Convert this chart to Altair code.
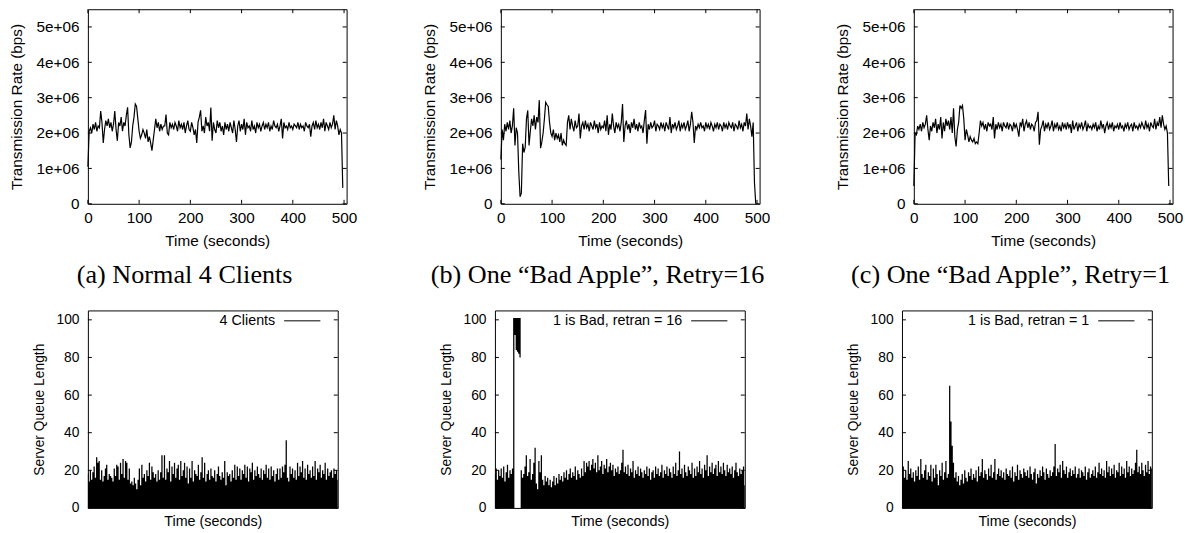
import altair as alt
import pandas as pd

FONT = "Liberation Sans"
SERIF = "Liberation Serif"

# ---------------- data: transmission rate (x 1e6 bps), one sample every 2.5 s ----------------
STEP = 2.5
rate_a = [
    1.05, 2.05, 2.15, 2.0, 2.25, 2.1, 2.3, 2.05, 2.2, 2.15, 2.62, 2.3, 1.72, 2.1, 2.35, 2.2, 2.4, 2.15, 2.3, 2.05,
    2.25, 2.62, 2.1, 1.78, 2.3, 2.2, 2.45, 2.05, 2.3, 2.2, 2.5, 2.73, 1.95, 1.58, 1.75, 2.2, 2.45, 2.82, 2.75, 2.4,
    2.05, 1.85, 1.95, 2.1, 2.0, 1.85, 2.1, 1.75, 1.9, 1.72, 1.5, 1.8, 2.1, 2.4, 2.15, 2.3, 2.05, 2.25, 2.1, 2.2,
    2.2, 2.52, 2.0, 1.95, 2.3, 2.15, 2.25, 2.1, 2.3, 2.2, 2.05, 2.35, 2.15, 2.25, 2.1, 2.3, 2.0, 2.2, 2.35, 2.1,
    2.05, 2.3, 2.15, 1.95, 2.1, 1.72, 2.3, 2.45, 2.64, 2.05, 2.2, 2.0, 2.45, 2.2, 2.3, 2.05, 2.72, 1.78, 2.3, 2.1,
    2.0, 2.35, 2.15, 2.3, 2.05, 2.2, 1.95, 2.3, 2.1, 2.25, 2.05, 2.3, 2.15, 2.0, 2.35, 2.1, 1.75, 2.2, 2.35, 2.05,
    2.25, 2.1, 2.4, 1.95, 2.3, 2.15, 2.2, 2.05, 2.35, 2.1, 2.2, 2.0, 2.3, 2.15, 2.25, 2.05, 2.2, 2.3, 2.1, 2.25,
    2.15, 2.3, 2.05, 2.2, 2.1, 2.35, 2.2, 2.15, 2.25, 2.05, 2.2, 2.4, 1.85, 2.3, 2.15, 2.2, 2.1, 2.3, 2.15, 2.2,
    2.1, 2.25, 2.2, 2.15, 2.3, 2.1, 2.25, 2.15, 2.2, 2.05, 2.3, 2.2, 2.15, 2.25, 1.9, 2.2, 2.3, 2.1, 2.35, 2.15,
    2.25, 2.1, 2.3, 2.15, 2.4, 2.05, 2.3, 2.2, 2.1, 2.3, 2.15, 2.25, 2.5, 2.1, 2.35, 2.2, 1.95, 2.1, 2.0, 0.45,
]
rate_b = [
    1.25, 2.1, 1.8, 2.25, 2.05, 2.3, 2.1, 2.35, 2.0, 2.2, 2.7, 1.65, 2.15, 2.0, 0.9, 0.2, 0.3, 1.7, 1.45, 1.6,
    2.4, 2.64, 1.65, 2.05, 2.4, 2.2, 2.5, 2.1, 2.45, 2.3, 2.93, 1.57, 1.75, 2.0, 2.4, 2.87, 2.8, 2.75, 2.3, 2.0,
    1.9, 2.1, 1.8, 2.0, 1.85, 1.95, 1.75, 2.0, 1.65, 1.8, 1.7, 1.65, 2.3, 2.5, 2.1, 2.4, 2.2, 2.05, 2.35, 2.15,
    2.2, 2.55, 1.85, 2.2, 2.3, 2.1, 2.35, 2.15, 2.25, 2.05, 2.3, 2.2, 2.1, 2.35, 2.15, 2.25, 2.0, 2.3, 2.1, 2.2,
    2.15, 2.35, 2.05, 2.5, 1.95, 2.25, 2.1, 2.55, 2.2, 2.0, 2.3, 2.15, 2.25, 2.05, 2.3, 2.82, 1.75, 2.2, 2.35, 2.1,
    2.25, 2.0, 2.3, 2.15, 2.4, 2.1, 2.25, 2.05, 2.3, 2.15, 2.2, 2.0, 2.35, 2.65, 1.7, 2.25, 2.1, 2.3, 2.15, 2.2,
    2.35, 2.05, 2.25, 2.2, 2.1, 2.3, 2.15, 2.25, 2.05, 2.3, 2.2, 2.1, 2.45, 2.0, 2.25, 2.15, 2.3, 2.1, 2.2, 2.35,
    2.05, 2.25, 2.15, 2.3, 2.1, 2.2, 2.35, 2.05, 2.25, 2.6, 2.3, 1.72, 2.2, 2.1, 2.25, 2.15, 2.3, 2.15, 2.2, 2.05,
    2.3, 2.15, 2.25, 2.1, 2.3, 2.2, 2.05, 2.25, 2.15, 2.3, 2.1, 2.25, 2.2, 2.05, 2.3, 2.15, 2.25, 2.1, 2.3, 2.2,
    2.15, 2.3, 2.05, 2.25, 2.2, 2.1, 2.35, 2.15, 2.25, 2.05, 2.3, 2.2, 2.55, 2.1, 2.4, 2.2, 1.9, 2.3, 0.6, 0.0,
]
rate_c = [
    0.5, 2.0, 1.95, 2.2, 2.1, 2.25, 2.05, 2.3, 2.15, 2.25, 2.5, 2.1, 1.8, 2.2, 2.05, 2.3, 2.15, 2.4, 2.0, 2.25,
    2.1, 2.45, 1.85, 2.3, 2.05, 2.4, 2.2, 2.35, 2.1, 2.45, 2.0, 2.7, 1.9, 1.62, 2.1, 2.3, 2.78, 2.7, 2.78, 2.4,
    1.8, 2.1, 1.95, 1.75, 1.9, 1.8, 1.75, 1.85, 1.7, 1.75, 1.7, 2.0, 2.35, 2.2, 2.3, 2.1, 2.25, 2.05, 2.3, 2.2,
    2.25, 2.1, 2.45, 1.85, 2.25, 2.1, 2.3, 2.15, 2.25, 2.05, 2.3, 2.2, 2.15, 2.3, 2.1, 2.25, 2.2, 2.05, 2.3, 2.15,
    2.25, 2.1, 1.9, 2.3, 2.2, 2.4, 2.05, 2.25, 2.35, 2.15, 2.3, 2.1, 2.25, 2.2, 2.05, 2.3, 2.35, 2.6, 1.67, 2.1,
    2.2, 2.35, 2.05, 2.25, 2.15, 2.3, 2.1, 2.2, 2.35, 2.05, 2.25, 2.15, 2.3, 2.1, 2.2, 2.05, 2.3, 2.15, 2.25, 2.1,
    2.3, 2.15, 2.25, 2.0, 2.35, 2.1, 2.2, 2.3, 2.05, 2.25, 2.15, 2.3, 2.1, 2.2, 2.35, 2.05, 2.25, 2.15, 2.2, 2.1,
    2.25, 2.15, 2.3, 2.05, 2.2, 2.1, 2.35, 2.15, 2.25, 2.0, 2.2, 2.3, 2.1, 2.25, 2.15, 2.3, 2.05, 2.2, 2.15, 2.25,
    2.1, 2.3, 2.15, 2.2, 2.05, 2.25, 2.15, 2.3, 2.1, 2.2, 2.25, 2.05, 2.3, 2.15, 2.2, 2.1, 2.25, 2.15, 2.3, 2.2,
    2.1, 2.35, 2.15, 2.25, 2.05, 2.3, 2.2, 2.15, 2.4, 2.1, 2.3, 2.2, 2.45, 2.15, 2.5, 2.25, 2.1, 2.2, 2.0, 0.5,
]

# ---------------- data: server queue length (one sample per slot) ----------------
queue_a = [
    18, 14, 20, 15, 19, 22, 16, 27, 24, 25, 15, 20, 14, 17, 21, 23, 15, 18, 17, 16,
    14, 21, 17, 23, 22, 15, 24, 18, 26, 16, 25, 24, 15, 21, 13, 14, 12, 16, 13, 10,
    15, 21, 12, 23, 16, 18, 14, 20, 17, 24, 15, 22, 19, 16, 18, 14, 20, 15, 19, 28,
    16, 28, 15, 21, 19, 25, 14, 22, 18, 24, 16, 21, 23, 15, 25, 17, 20, 24, 16, 22,
    13, 21, 16, 25, 14, 20, 18, 17, 23, 15, 19, 27, 16, 24, 14, 18, 20, 15, 21, 17,
    16, 20, 14, 18, 22, 17, 15, 19, 16, 25, 12, 19, 17, 18, 14, 20, 16, 23, 15, 22,
    17, 21, 15, 20, 18, 23, 16, 22, 14, 21, 19, 24, 15, 20, 17, 22, 18, 16, 21, 15,
    20, 18, 23, 16, 21, 15, 22, 17, 20, 14, 18, 21, 15, 21, 16, 22, 19, 23, 36, 16,
    14, 22, 18, 21, 16, 20, 15, 24, 17, 22, 19, 25, 16, 21, 15, 23, 18, 20, 16, 22,
    17, 25, 15, 21, 19, 23, 16, 20, 18, 24, 15, 21, 17, 19, 20, 16, 21, 18, 20, 15,
]
queue_b = [
    18, 21, 15, 20, 17, 21, 16, 22, 14, 19, 23, 16, 20, 18, 21, 101, 101, 101, 101, 101,
    101, 20, 16, 18, 22, 28, 17, 19, 26, 15, 18, 24, 32, 13, 10, 25, 19, 28, 15, 12,
    17, 14, 16, 12, 15, 11, 14, 17, 12, 16, 13, 18, 15, 17, 14, 19, 16, 20, 15, 18,
    21, 16, 19, 17, 22, 15, 20, 18, 16, 21, 17, 25, 19, 24, 22, 25, 20, 23, 26, 21,
    24, 19, 28, 20, 22, 25, 18, 23, 21, 26, 19, 22, 24, 20, 23, 17, 21, 19, 22, 18,
    20, 24, 31, 19, 22, 18, 23, 17, 21, 19, 25, 16, 20, 18, 22, 17, 21, 19, 16, 20,
    18, 22, 17, 21, 15, 19, 20, 16, 22, 18, 21, 17, 19, 23, 16, 20, 18, 22, 17, 21,
    19, 16, 22, 18, 24, 17, 20, 30, 18, 21, 16, 23, 19, 17, 22, 20, 18, 24, 16, 21,
    17, 22, 19, 25, 18, 21, 16, 23, 20, 28, 17, 22, 19, 24, 18, 21, 23, 17, 25, 19,
    22, 18, 24, 20, 17, 23, 19, 21, 18, 22, 16, 20, 24, 19, 17, 21, 18, 20, 22, 12,
]
# lower edge of the black band while the queue is saturated (run b)
queue_b_low = [0] * 16 + [92, 84, 83, 82, 80] + [0] * 179
queue_c = [
    13, 22, 16, 20, 15, 25, 18, 21, 16, 19, 14, 20, 17, 22, 15, 26, 18, 16, 20, 23,
    15, 19, 17, 23, 14, 21, 16, 23, 18, 12, 20, 17, 24, 15, 19, 25, 16, 18, 65, 46,
    33, 24, 16, 19, 14, 17, 12, 15, 18, 13, 20, 16, 14, 19, 17, 21, 15, 18, 16, 20,
    14, 22, 17, 19, 26, 16, 20, 18, 15, 21, 17, 23, 16, 19, 26, 15, 18, 21, 17, 20,
    16, 19, 15, 21, 18, 17, 20, 16, 22, 14, 19, 17, 23, 15, 20, 18, 16, 21, 19, 17,
    20, 16, 22, 18, 15, 19, 21, 13, 18, 16, 20, 17, 22, 19, 15, 21, 18, 16, 20, 17,
    19, 22, 34, 17, 21, 19, 23, 16, 25, 20, 18, 22, 16, 19, 21, 17, 20, 18, 22, 16,
    18, 21, 16, 20, 19, 17, 22, 15, 19, 21, 16, 18, 20, 17, 22, 16, 19, 24, 18, 21,
    17, 20, 16, 25, 19, 22, 17, 21, 18, 23, 16, 20, 19, 24, 17, 22, 18, 21, 16, 25,
    19, 22, 17, 21, 18, 20, 24, 31, 19, 22, 18, 24, 20, 17, 23, 19, 25, 18, 22, 21,
]

rate_ticks_x = [0, 100, 200, 300, 400, 500]
rate_ticks_y = [0, 1, 2, 3, 4, 5]
queue_ticks_y = [0, 20, 40, 60, 80, 100]
queue_ticks_x_a = [80, 125.6, 166, 185]
queue_ticks_x_b = [69.8, 121.6, 150.6]
queue_ticks_x_c = [35.2, 130.7, 180.1]

captions = [
    "(a) Normal 4 Clients",
    "(b) One \u201cBad Apple\u201d, Retry=16",
    "(c) One \u201cBad Apple\u201d, Retry=1",
]
legends = ["4 Clients", "1 is Bad, retran = 16", "1 is Bad, retran = 1"]

TICK = 4
PITCH = 409.7
TOP_L, TOP_W, TOP_H, TOP_R = 88.5, 262, 197, 12
BOT_L, BOT_W, BOT_H = 81.7, 253, 200
SPACING = PITCH - (TOP_L + TOP_W + TOP_R)
BOT_R = PITCH - SPACING - BOT_L - BOT_W
TOP_PAD = 5


def rate_panel(vals, caption):
    W, H = TOP_W, TOP_H
    df = pd.DataFrame({"t": [i * STEP for i in range(len(vals))], "v": vals})
    xs = alt.Scale(domain=[0, 505], nice=False, zero=False)
    ys = alt.Scale(domain=[0, 5.5], nice=False)
    x_ax = alt.Axis(values=rate_ticks_x, ticks=False, domain=False, grid=False,
                    labelFontSize=15.5, labelPadding=7, labelFlush=False,
                    title="Time (seconds)", titleFontSize=15.5, titlePadding=8)
    y_ax = alt.Axis(values=rate_ticks_y, ticks=False, domain=False, grid=False,
                    labelFontSize=15.5, labelPadding=9, labelFlush=False,
                    labelExpr="datum.value == 0 ? '0' : datum.value + 'e+06'",
                    title="Transmission Rate (bps)", titleFontSize=15.5, titlePadding=12)
    X = alt.X("t:Q", scale=xs, axis=x_ax)
    Y = alt.Y("v:Q", scale=ys, axis=y_ax)
    line = alt.Chart(df).mark_line(color="black", strokeWidth=1.2).encode(x=X, y=Y)
    tx = pd.DataFrame({"t": rate_ticks_x})
    ty = pd.DataFrame({"v": rate_ticks_y})
    tb = alt.Chart(tx).mark_rule(color="black").encode(x=X, y=alt.value(H), y2=alt.value(H - TICK))
    tt = alt.Chart(tx).mark_rule(color="black").encode(x=X, y=alt.value(0), y2=alt.value(TICK))
    tl = alt.Chart(ty).mark_rule(color="black").encode(y=Y, x=alt.value(0), x2=alt.value(TICK))
    tr = alt.Chart(ty).mark_rule(color="black").encode(y=Y, x=alt.value(W - TICK), x2=alt.value(W))
    cap = alt.Chart(pd.DataFrame({"c": [caption]})).mark_text(
        font=SERIF, fontSize=26.5, color="black", align="center", baseline="alphabetic"
    ).encode(x=alt.value(98), y=alt.value(277), text="c:N")
    bounds = alt.Chart(pd.DataFrame({"k": [0]})).mark_rule(opacity=0, strokeOpacity=0).encode(
        x=alt.value(-TOP_L), x2=alt.value(W + TOP_R), y=alt.value(-TOP_PAD), y2=alt.value(H + 90.7))
    return alt.layer(line, tb, tt, tl, tr, cap, bounds).properties(width=W, height=H)


def queue_panel(vals, low, xticks, legend):
    W, H = BOT_W, BOT_H
    n = len(vals)
    d = {"i": list(range(n)), "q": vals}
    if low is not None:
        d["lo"] = low
    df = pd.DataFrame(d)
    xs = alt.Scale(domain=[0, n - 1], nice=False, zero=False)
    ys = alt.Scale(domain=[0, 105], nice=False)
    x_ax = alt.Axis(labels=False, ticks=False, domain=False, grid=False,
                    title="Time (seconds)", titleFontSize=14.5, titlePadding=7)
    y_ax = alt.Axis(values=queue_ticks_y, ticks=False, domain=False, grid=False,
                    labelFontSize=14, labelPadding=9, labelFlush=False,
                    title="Server Queue Length", titleFontSize=14, titlePadding=10)
    X = alt.X("i:Q", scale=xs, axis=x_ax)
    Y = alt.Y("q:Q", scale=ys, axis=y_ax)
    enc = dict(x=X, y=Y)
    if low is not None:
        enc["y2"] = alt.Y2("lo:Q")
    area = alt.Chart(df).mark_area(color="black", interpolate="step", opacity=1).encode(**enc)
    tx = pd.DataFrame({"i": xticks})
    ty = pd.DataFrame({"q": queue_ticks_y})
    tb = alt.Chart(tx).mark_rule(color="black").encode(x=X, y=alt.value(H), y2=alt.value(H - TICK))
    tl = alt.Chart(ty).mark_rule(color="black").encode(y=Y, x=alt.value(0), x2=alt.value(TICK))
    tr = alt.Chart(ty).mark_rule(color="black").encode(y=Y, x=alt.value(W - TICK), x2=alt.value(W))
    lt = alt.Chart(pd.DataFrame({"l": [legend]})).mark_text(
        font=FONT, fontSize=14.5, color="black", align="right", baseline="middle"
    ).encode(x=alt.value(W - 63.3), y=alt.value(10.5), text="l:N")
    ll = alt.Chart(pd.DataFrame({"l": [legend]})).mark_rule(color="#555", strokeWidth=1.5).encode(
        x=alt.value(W - 54.3), x2=alt.value(W - 17.6), y=alt.value(10.5), y2=alt.value(10.5))
    bounds = alt.Chart(pd.DataFrame({"k": [0]})).mark_rule(opacity=0, strokeOpacity=0).encode(
        x=alt.value(-BOT_L), x2=alt.value(W + BOT_R), y=alt.value(0), y2=alt.value(H + 20))
    return alt.layer(area, tb, tl, tr, lt, ll, bounds).properties(width=W, height=H)


panels = [
    rate_panel(rate_a, captions[0]),
    rate_panel(rate_b, captions[1]),
    rate_panel(rate_c, captions[2]),
    queue_panel(queue_a, None, queue_ticks_x_a, legends[0]),
    queue_panel(queue_b, queue_b_low, queue_ticks_x_b, legends[1]),
    queue_panel(queue_c, None, queue_ticks_x_c, legends[2]),
]

chart = alt.concat(
    *panels,
    columns=3,
    align={"row": "each", "column": "none"},
    spacing={"row": 15, "column": SPACING},
).properties(
    padding={"left": 0, "top": 0, "right": 0, "bottom": 0}, background="white"
).configure_view(
    stroke="black", strokeWidth=1
).configure_axis(
    labelFont=FONT, titleFont=FONT, labelColor="black", titleColor="black",
    titleFontWeight="normal"
)

chart.save("out.html", embed_options={"renderer": "svg", "actions": False})
